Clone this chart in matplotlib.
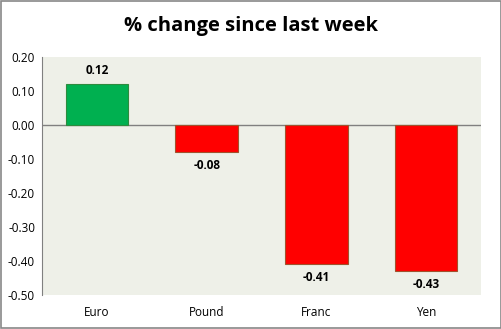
import matplotlib
matplotlib.use("Agg")
import matplotlib.pyplot as plt
from matplotlib.patches import Rectangle

categories = ["Euro", "Pound", "Franc", "Yen"]
values = [0.12, -0.08, -0.41, -0.43]
yticks = [0.20, 0.10, 0.00, -0.10, -0.20, -0.30, -0.40, -0.50]

plt.rcParams['font.family'] = ['Open Sans', 'DejaVu Sans']

fig = plt.figure(figsize=(5.02, 3.29), dpi=100)
fig.patch.set_facecolor('white')
fig.patches.append(Rectangle((0.002, 0.003), 0.996, 0.994, transform=fig.transFigure,
                             fill=False, edgecolor='#888888', linewidth=1.2))
ax = fig.add_axes([0.0837, 0.1033, 0.8745, 0.7234])
ax.set_facecolor('#EEF0E8')

colors = ['#00B050' if v >= 0 else '#FF0000' for v in values]
edges = ['#2E8B3E' if v >= 0 else '#A0522D' for v in values]
x = range(len(categories))
bars = ax.bar(x, values, width=0.57, color=colors, edgecolor=edges, linewidth=0.8, zorder=3)

for xi, v in zip(x, values):
    if v >= 0:
        ax.text(xi, v + 0.02, f"{v:.2f}", ha='center', va='bottom', fontsize=8.5, fontweight='bold')
    else:
        ax.text(xi, v - 0.02, f"{v:.2f}", ha='center', va='top', fontsize=8.5, fontweight='bold')

ax.axhline(0, color='#808080', linewidth=1, zorder=2)
ax.set_xlim(-0.5, 3.5)
ax.set_ylim(-0.5, 0.2)
ax.set_yticks(yticks)
ax.set_yticklabels([f"{t:.2f}" for t in yticks], fontsize=8.5)
ax.set_xticks(list(x))
ax.set_xticklabels(categories, fontsize=8.5)
ax.tick_params(axis='x', length=0, pad=8)
ax.tick_params(axis='y', length=0, pad=5)
for s in ['top', 'right', 'bottom']:
    ax.spines[s].set_visible(False)
ax.spines['left'].set_color('#808080')

fig.text(0.5, 0.922, "% change since last week", ha='center', va='center', fontsize=14.5, fontweight='bold')

fig.savefig("out.png", dpi=100)
